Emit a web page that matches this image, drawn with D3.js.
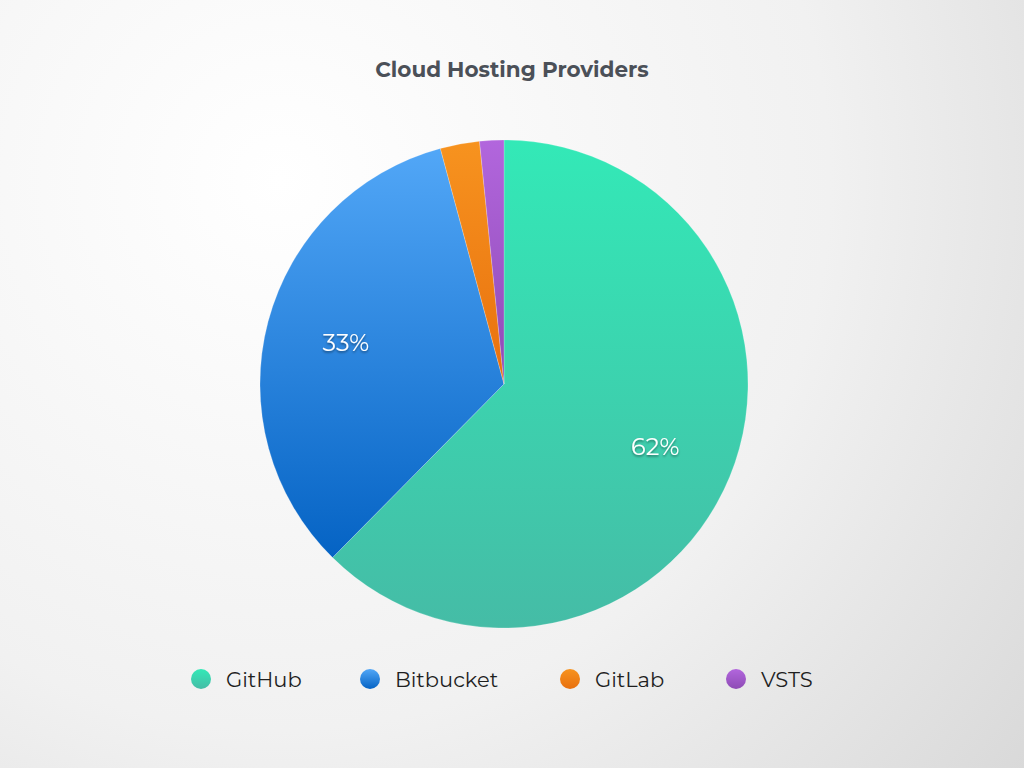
<!DOCTYPE html>
<html>
<head>
<meta charset="utf-8">
<script src="https://cdn.jsdelivr.net/npm/d3@7"></script>
<style>
	html, body { margin: 0; padding: 0; }
	body { width: 1024px; height: 768px; overflow: hidden; }
	svg { display: block; font-family: "Montserrat", "Lato", "Open Sans", sans-serif; }
</style>
</head>
<body>
<div id="chart"></div>
<script>

// data
var providers = ["GitHub", "Bitbucket", "GitLab", "VSTS"];
var shares = [62.4, 33.4, 2.6, 1.6];
var topColors = ["#33e9b7", "#52a7f7", "#f7931f", "#b266dd"];
var bottomColors = ["#45bca6", "#0563c4", "#e8700e", "#8e4bb5"];

var width = 1024,
	height = 768,
	radius = 244,
	cx = 504, cy = 384;

var svg = d3.select("#chart").append("svg")
	.attr("width", width)
	.attr("height", height);

var defs = svg.append("defs");

// background
var bg = defs.append("radialGradient")
	.attr("id", "bg")
	.attr("gradientUnits", "userSpaceOnUse")
	.attr("cx", 280).attr("cy", 180).attr("r", 1000);
bg.append("stop").attr("offset", "0%").attr("stop-color", "#ffffff");
bg.append("stop").attr("offset", "55%").attr("stop-color", "#f1f1f1");
bg.append("stop").attr("offset", "100%").attr("stop-color", "#d6d6d6");

svg.append("rect")
	.attr("width", width).attr("height", height)
	.attr("fill", "url(#bg)");

// slice gradients
providers.forEach(function(p, i){
	var lg = defs.append("linearGradient")
		.attr("id", "grad" + i)
		.attr("x1", 0).attr("y1", 0).attr("x2", 0).attr("y2", 1);
	lg.append("stop").attr("offset", "0%").attr("stop-color", topColors[i]);
	lg.append("stop").attr("offset", "100%").attr("stop-color", bottomColors[i]);
});

// label shadow
var f = defs.append("filter").attr("id", "shadow")
	.attr("x", "-20%").attr("y", "-20%").attr("width", "140%").attr("height", "160%");
f.append("feDropShadow")
	.attr("dx", 0).attr("dy", 1.5).attr("stdDeviation", 1)
	.attr("flood-color", "#000").attr("flood-opacity", 0.45);

// title
svg.append("text")
	.attr("x", 512).attr("y", 77)
	.attr("text-anchor", "middle")
	.style("font-size", "21.5px")
	.style("font-weight", "bold")
	.style("fill", "#4b5058")
	.text("Cloud Hosting Providers");

var pie = d3.pie().sort(null).value(function(d){ return d; });
var arcs = pie(shares);

var arc = d3.arc().innerRadius(0).outerRadius(radius);
var labelArc = d3.arc().innerRadius(radius * 0.67).outerRadius(radius * 0.67);

var g = svg.append("g").attr("transform", "translate(" + cx + "," + cy + ")");

g.selectAll("path.slice")
	.data(arcs).enter()
	.append("path")
		.attr("class", "slice")
		.attr("d", arc)
		.attr("fill", function(d, i){ return "url(#grad" + i + ")"; })
		.attr("stroke", "rgba(255,255,255,0.35)")
		.attr("stroke-width", 0.6);

g.selectAll("text.lbl")
	.data(arcs.filter(function(d){ return d.value > 5; })).enter()
	.append("text")
		.attr("class", "lbl")
		.attr("transform", function(d){ return "translate(" + labelArc.centroid(d) + ")"; })
		.attr("text-anchor", "middle")
		.attr("dy", "0.36em")
		.attr("filter", "url(#shadow)")
		.style("font-size", "24px")
		.style("fill", "#fff")
		.text(function(d){ return Math.round(d.value) + "%"; });

// legend
var legendPos = [201, 370, 570, 736];

var legend = svg.selectAll("g.legend")
	.data(providers).enter()
	.append("g")
		.attr("class", "legend")
		.attr("transform", function(d, i){ return "translate(" + legendPos[i] + ",679)"; });

legend.append("circle")
	.attr("r", 10)
	.attr("fill", function(d, i){ return "url(#grad" + i + ")"; });

legend.append("text")
	.attr("x", 25)
	.attr("dy", "0.36em")
	.style("font-size", "21px")
	.style("fill", "#1f1f1f")
	.text(function(d){ return d; });

</script>
</body>
</html>
